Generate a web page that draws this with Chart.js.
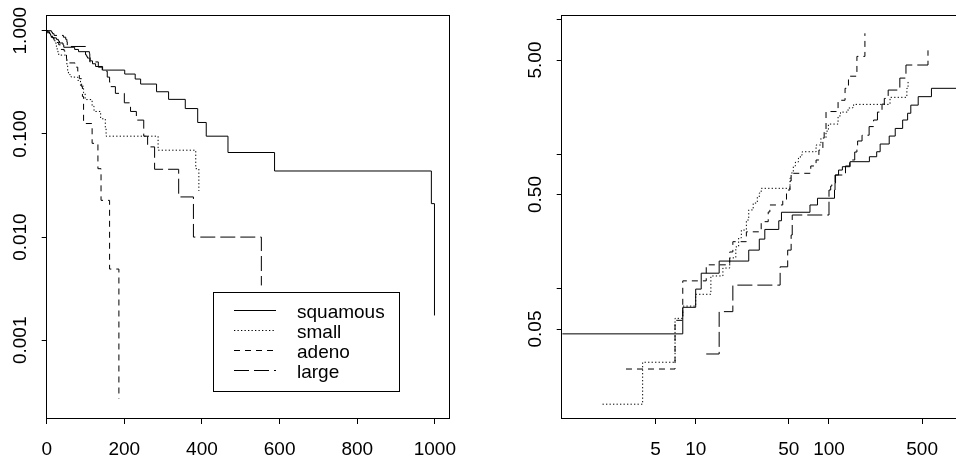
<!DOCTYPE html>
<html>
<head>
<meta charset="utf-8">
<script src="https://cdn.jsdelivr.net/npm/chart.js@4.4.1/dist/chart.umd.min.js"></script>
<style>
  html, body { margin: 0; padding: 0; background: #fff; overflow: hidden; width: 956px; height: 459px; }
  .panel { position: absolute; top: 0; height: 459px; }
  #survBox { left: 0; width: 478px; }
  #hazBox { left: 478px; width: 500px; }
</style>
</head>
<body>
<div class="panel" id="survBox"><canvas id="survChart" width="478" height="459"></canvas></div>
<div class="panel" id="hazBox"><canvas id="hazChart" width="500" height="459"></canvas></div>
<script>
// ---- data ----
const cellTypes = ["squamous", "small", "adeno", "large"];

// left panel: survival on a log scale
const squamousTime = [0, 1, 8, 10, 11, 15, 25, 30, 33, 42, 44, 72, 82, 110, 111, 112, 118, 126, 144, 201, 228, 242, 283, 314, 357, 389, 411, 467, 587, 991, 999];
const squamousSurv = [1, 0.955, 0.930, 0.906, 0.878, 0.852, 0.824, 0.792, 0.760, 0.727, 0.691, 0.658, 0.626, 0.600, 0.550, 0.510, 0.478, 0.450, 0.415, 0.380, 0.340, 0.304, 0.256, 0.216, 0.176, 0.129, 0.095, 0.066, 0.0437, 0.0211, 0.00174];
const smallTime = [0, 2, 4, 7, 8, 10, 13, 16, 18, 20, 21, 22, 24, 25, 27, 29, 30, 31, 51, 52, 54, 56, 59, 61, 63, 80, 87, 95, 99, 117, 122, 139, 151, 153, 287, 384, 392];
const smallSurv = [1, 0.986, 0.972, 0.942, 0.929, 0.913, 0.883, 0.868, 0.845, 0.815, 0.788, 0.762, 0.724, 0.681, 0.649, 0.619, 0.599, 0.580, 0.52, 0.47, 0.41, 0.385, 0.375, 0.365, 0.355, 0.33, 0.29, 0.25, 0.215, 0.185, 0.165, 0.14, 0.115, 0.095, 0.0695, 0.046, 0.028];
const adenoTime = [0, 3, 7, 8, 12, 18, 19, 24, 31, 35, 36, 45, 48, 51, 52, 73, 80, 84, 90, 92, 95, 117, 132, 140, 162, 186];
const adenoSurv = [1, 0.975, 0.944, 0.892, 0.861, 0.829, 0.800, 0.768, 0.730, 0.690, 0.658, 0.634, 0.583, 0.533, 0.487, 0.443, 0.405, 0.343, 0.287, 0.23, 0.126, 0.081, 0.046, 0.0227, 0.0049, 0.00027];
const largeTime = [0, 12, 15, 19, 43, 49, 52, 53, 100, 103, 105, 111, 133, 143, 156, 162, 164, 177, 200, 216, 231, 250, 260, 278, 340, 378, 553];
const largeSurv = [1, 0.968, 0.935, 0.90, 0.865, 0.824, 0.779, 0.703, 0.583, 0.561, 0.543, 0.498, 0.443, 0.405, 0.355, 0.317, 0.287, 0.247, 0.20, 0.165, 0.136, 0.095, 0.0748, 0.0454, 0.0245, 0.010, 0.0034];

// right panel: cumulative hazard, log-log
const squamousHazT = [1, 8, 10, 11, 15, 25, 30, 33, 42, 44, 72, 82, 110, 111, 112, 118, 126, 144, 201, 228, 242, 283, 314, 357, 389, 411, 467, 587, 991, 999];
const squamousHaz = [0.046, 0.0725, 0.099, 0.130, 0.160, 0.193, 0.233, 0.275, 0.319, 0.369, 0.418, 0.469, 0.540, 0.609, 0.698, 0.76, 0.805, 0.877, 0.955, 1.04, 1.187, 1.36, 1.55, 1.79, 2.01, 2.31, 2.67, 3.08, 3.86, 6.35];
const smallHazT = [2, 4, 7, 8, 10, 13, 16, 18, 20, 21, 22, 24, 25, 27, 29, 30, 31, 51, 52, 54, 56, 59, 61, 63, 80, 87, 95, 99, 117, 122, 139, 151, 153, 287, 384, 392];
const smallHaz = [0.0138, 0.0283, 0.060, 0.074, 0.0906, 0.124, 0.142, 0.169, 0.204, 0.238, 0.272, 0.323, 0.384, 0.432, 0.479, 0.513, 0.556, 0.664, 0.723, 0.815, 0.873, 0.934, 0.983, 1.04, 1.167, 1.315, 1.48, 1.67, 1.92, 2.05, 2.20, 2.27, 2.34, 2.64, 3.08, 3.55];
const adenoHazT = [3, 7, 8, 12, 18, 19, 24, 31, 35, 36, 45, 48, 51, 52, 73, 80, 84, 90, 92, 95, 117, 132, 140, 162, 186];
const adenoHaz = [0.0252, 0.058, 0.114, 0.150, 0.187, 0.223, 0.264, 0.314, 0.371, 0.418, 0.455, 0.540, 0.630, 0.719, 0.815, 0.903, 1.07, 1.25, 1.47, 2.07, 2.51, 3.08, 3.79, 5.32, 7.9];
const largeHazT = [12, 15, 19, 43, 49, 52, 53, 100, 103, 105, 111, 133, 143, 156, 162, 164, 177, 200, 216, 231, 250, 260, 278, 340, 378, 553];
const largeHaz = [0.0326, 0.0673, 0.106, 0.145, 0.193, 0.250, 0.352, 0.540, 0.578, 0.610, 0.698, 0.815, 0.903, 1.035, 1.148, 1.25, 1.38, 1.60, 1.79, 2.05, 2.35, 2.59, 2.99, 3.67, 4.59, 5.9];

// axis ticks
const survXTicks = [0, 200, 400, 600, 800, 1000];
const survYTicks = [0.001, 0.01, 0.1, 1];
const survYLabels = ["0.001", "0.010", "0.100", "1.000"];
const hazXTicks = [5, 10, 50, 100, 500];
const hazXLabels = ["5", "10", "50", "100", "500"];
const hazYTicks = [0.05, 0.1, 0.5, 1, 5, 10];
const hazYLabels = ["0.05", "", "0.50", "", "5.00", ""];

// ---- styling ----
const FONT = { family: "'Liberation Sans', Arial, Helvetica, sans-serif", size: 19 };
const dashes = [[], [1.3, 2.2], [6, 5], [15, 5]];

function pairs(t, v) {
  return t.map((x, i) => ({ x: x, y: v[i] }));
}

function makeSets(series) {
  return series.map((s, i) => ({
    label: cellTypes[i],
    data: pairs(s[0], s[1]),
    borderColor: "#000",
    borderWidth: 1,
    borderDash: dashes[i],
    pointRadius: 0,
    stepped: "before",
    fill: false,
    tension: 0
  }));
}

function axis(type, min, max, tickVals, labels, isY, pad, size) {
  return {
    type: type,
    min: min,
    max: max,
    afterBuildTicks: s => { s.ticks = tickVals.map(v => ({ value: v })); },
    afterFit: s => { if (isY) s.width = size; else s.height = size; },
    ticks: {
      color: "#000",
      font: FONT,
      autoSkip: false,
      padding: pad,
      minRotation: isY ? 90 : 0,
      maxRotation: isY ? 90 : 0,
      crossAlign: isY ? "center" : "near",
      callback: (v, i) => labels[i]
    },
    grid: { display: true, drawOnChartArea: false, drawTicks: true, tickLength: 5, color: "#000", lineWidth: 1 },
    border: { display: false }
  };
}

// box round the plotting region
const frame = {
  id: "frame",
  afterDatasetsDraw(chart) {
    const a = chart.chartArea;
    const ctx = chart.ctx;
    ctx.save();
    ctx.strokeStyle = "#000";
    ctx.lineWidth = 1;
    ctx.strokeRect(Math.floor(a.left) + 0.5, Math.floor(a.top) + 0.5, Math.round(a.right - a.left), Math.round(a.bottom - a.top));
    ctx.restore();
  }
};

// legend drawn inside the left panel
const survLegend = {
  id: "survLegend",
  afterDraw(chart) {
    const ctx = chart.ctx;
    ctx.save();
    ctx.strokeStyle = "#000";
    ctx.lineWidth = 1;
    ctx.setLineDash([]);
    ctx.strokeRect(213.5, 292.5, 186, 99);
    ctx.font = FONT.size + "px " + FONT.family;
    ctx.fillStyle = "#000";
    ctx.textBaseline = "alphabetic";
    chart.data.datasets.forEach((ds, i) => {
      const y = 310.5 + i * 20;
      ctx.setLineDash(ds.borderDash);
      ctx.beginPath();
      ctx.moveTo(234, y);
      ctx.lineTo(276, y);
      ctx.stroke();
      ctx.setLineDash([]);
      ctx.fillText(ds.label, 297, y + 7);
    });
    ctx.restore();
  }
};

const common = {
  responsive: false,
  animation: false,
  devicePixelRatio: 1,
  plugins: { legend: { display: false }, tooltip: { enabled: false } }
};

new Chart(document.getElementById("survChart").getContext("2d"), {
  type: "line",
  data: {
    datasets: makeSets([
      [squamousTime, squamousSurv],
      [smallTime, smallSurv],
      [adenoTime, adenoSurv],
      [largeTime, largeSurv]
    ])
  },
  options: Object.assign({}, common, {
    layout: { padding: { top: 15.7, right: 28, bottom: 0, left: 0 } },
    scales: {
      x: axis("linear", 0, 1039, survXTicks, survXTicks.map(String), false, 14, 40),
      y: axis("logarithmic", 1.727e-4, 1.397, survYTicks, survYLabels, true, -2.5, 46.7)
    }
  }),
  plugins: [frame, survLegend]
});

new Chart(document.getElementById("hazChart").getContext("2d"), {
  type: "line",
  data: {
    datasets: makeSets([
      [squamousHazT, squamousHaz],
      [smallHazT, smallHaz],
      [adenoHazT, adenoHaz],
      [largeHazT, largeHaz]
    ])
  },
  options: Object.assign({}, common, {
    layout: { padding: { top: 15.7, right: 0, bottom: 0, left: 0 } },
    scales: {
      x: axis("logarithmic", 0.988, 1312, hazXTicks, hazXLabels, false, 14, 40),
      y: axis("logarithmic", 0.01071, 10.68, hazYTicks, hazYLabels, true, 2, 83.7)
    }
  }),
  plugins: [frame]
});
</script>
</body>
</html>
